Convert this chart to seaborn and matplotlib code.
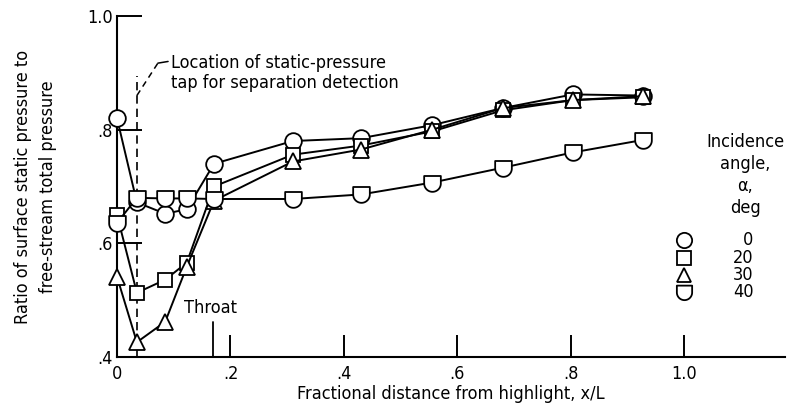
import numpy as np
import pandas as pd
import matplotlib
matplotlib.use("Agg")
import matplotlib.pyplot as plt
from matplotlib.path import Path
import seaborn as sns

sns.set_style("ticks")
plt.rcParams['font.family'] = ['DejaVu Sans']
plt.rcParams['font.stretch'] = 'condensed'

# Data
x_pos = [0.0, 0.035, 0.085, 0.123, 0.171, 0.31, 0.43, 0.556, 0.68, 0.804, 0.928]
p_0 = [0.82, 0.672, 0.652, 0.66, 0.74, 0.78, 0.785, 0.808, 0.838, 0.862, 0.86]
p_20 = [0.65, 0.513, 0.536, 0.566, 0.70, 0.756, 0.772, 0.797, 0.834, 0.852, 0.857]
p_30 = [0.541, 0.426, 0.462, 0.559, 0.675, 0.744, 0.765, 0.80, 0.838, 0.852, 0.859]
p_40 = [0.636, 0.68, 0.679, 0.679, 0.678, 0.678, 0.686, 0.707, 0.733, 0.76, 0.782]
angles = ["0", "20", "30", "40"]
x_ticks = [0, 0.2, 0.4, 0.6, 0.8, 1.0]
x_labels = ["0", ".2", ".4", ".6", ".8", "1.0"]
y_ticks = [0.4, 0.6, 0.8, 1.0]
y_labels = [".4", ".6", ".8", "1.0"]
tap_x = 0.035
throat_x = 0.169

# D-shaped marker (flat top, round bottom)
t = np.linspace(0, -np.pi, 30)
verts = [(-1, 0.9), (1, 0.9)] + [(np.cos(a), np.sin(a) * 1.0) for a in t] + [(-1, 0.9)]
codes = [Path.MOVETO] + [Path.LINETO] * (len(verts) - 2) + [Path.CLOSEPOLY]
d_marker = Path(verts, codes)

markers = ["o", "s", "^", d_marker]
msizes = [12, 10.5, 11.5, 12]
series = [p_0, p_20, p_30, p_40]

fig = plt.figure(figsize=(7.87, 4.13), dpi=100)
ax = fig.add_axes([0.1487, 0.1356, 0.849, 0.8257])

for ang, vals, m, ms in zip(angles, series, markers, msizes):
    df = pd.DataFrame({"x": x_pos, "y": vals})
    sns.lineplot(data=df, x="x", y="y", ax=ax, color="black", lw=1.4,
                 marker=m, markersize=ms, markerfacecolor="white",
                 markeredgecolor="black", markeredgewidth=1.3, clip_on=False,
                 zorder=3)

ax.set_xlim(0, 1.178)
ax.set_ylim(0.4, 1.0)
sns.despine(ax=ax)
for s in ["left", "bottom"]:
    ax.spines[s].set_linewidth(1.5)
    ax.spines[s].set_color("black")
ax.spines["left"].set_bounds(0.4, 1.0)

FS = 13
ax.set_xticks(x_ticks)
ax.set_xticklabels(x_labels)
ax.set_yticks(y_ticks)
ax.set_yticklabels(y_labels)
ax.tick_params(axis="both", direction="in", width=1.4, color="black",
               labelsize=FS, labelcolor="black")
ax.tick_params(axis="x", length=16, pad=6)
ax.tick_params(axis="y", length=18, pad=3)

ax.set_xlabel("Fractional distance from highlight, x/L", fontsize=FS, color="black", labelpad=1)
ax.set_ylabel("Ratio of surface static pressure to\nfree-stream total pressure",
              fontsize=FS, color="black", labelpad=22, linespacing=1.45)

# tap location dashed line + annotation
ax.plot([tap_x, tap_x], [0.4, 0.895], ls=(0, (5, 3)), color="black", lw=1.2, zorder=2)
ax.plot([tap_x, 0.072], [0.86, 0.917], ls=(0, (4, 3)), color="black", lw=1.1)
ax.plot([0.072, 0.09], [0.917, 0.92], color="black", lw=1.1)
ax.text(0.095, 0.9, "Location of static-pressure\ntap for separation detection",
        fontsize=FS, color="black", va="center", ha="left", linespacing=1.15)

# throat
ax.plot([throat_x, throat_x], [0.4, 0.462], color="black", lw=1.3)
ax.text(throat_x - 0.005, 0.487, "Throat", fontsize=FS, color="black", ha="center", va="center")

# legend
ax.text(1.108, 0.72, "Incidence\nangle,\nα,\ndeg", fontsize=FS, color="black",
        ha="center", va="center", linespacing=1.3)
ly = [0.606, 0.575, 0.545, 0.515]
for yy, m, ms, lab in zip(ly, markers, msizes, angles):
    ax.plot([1.0], [yy], marker=m, markersize=ms - 1, markerfacecolor="white",
            markeredgecolor="black", markeredgewidth=1.3, ls="none", clip_on=False)
    ax.text(1.122, yy, lab, fontsize=FS, color="black", ha="right", va="center")

fig.savefig("out.png", dpi=100)
